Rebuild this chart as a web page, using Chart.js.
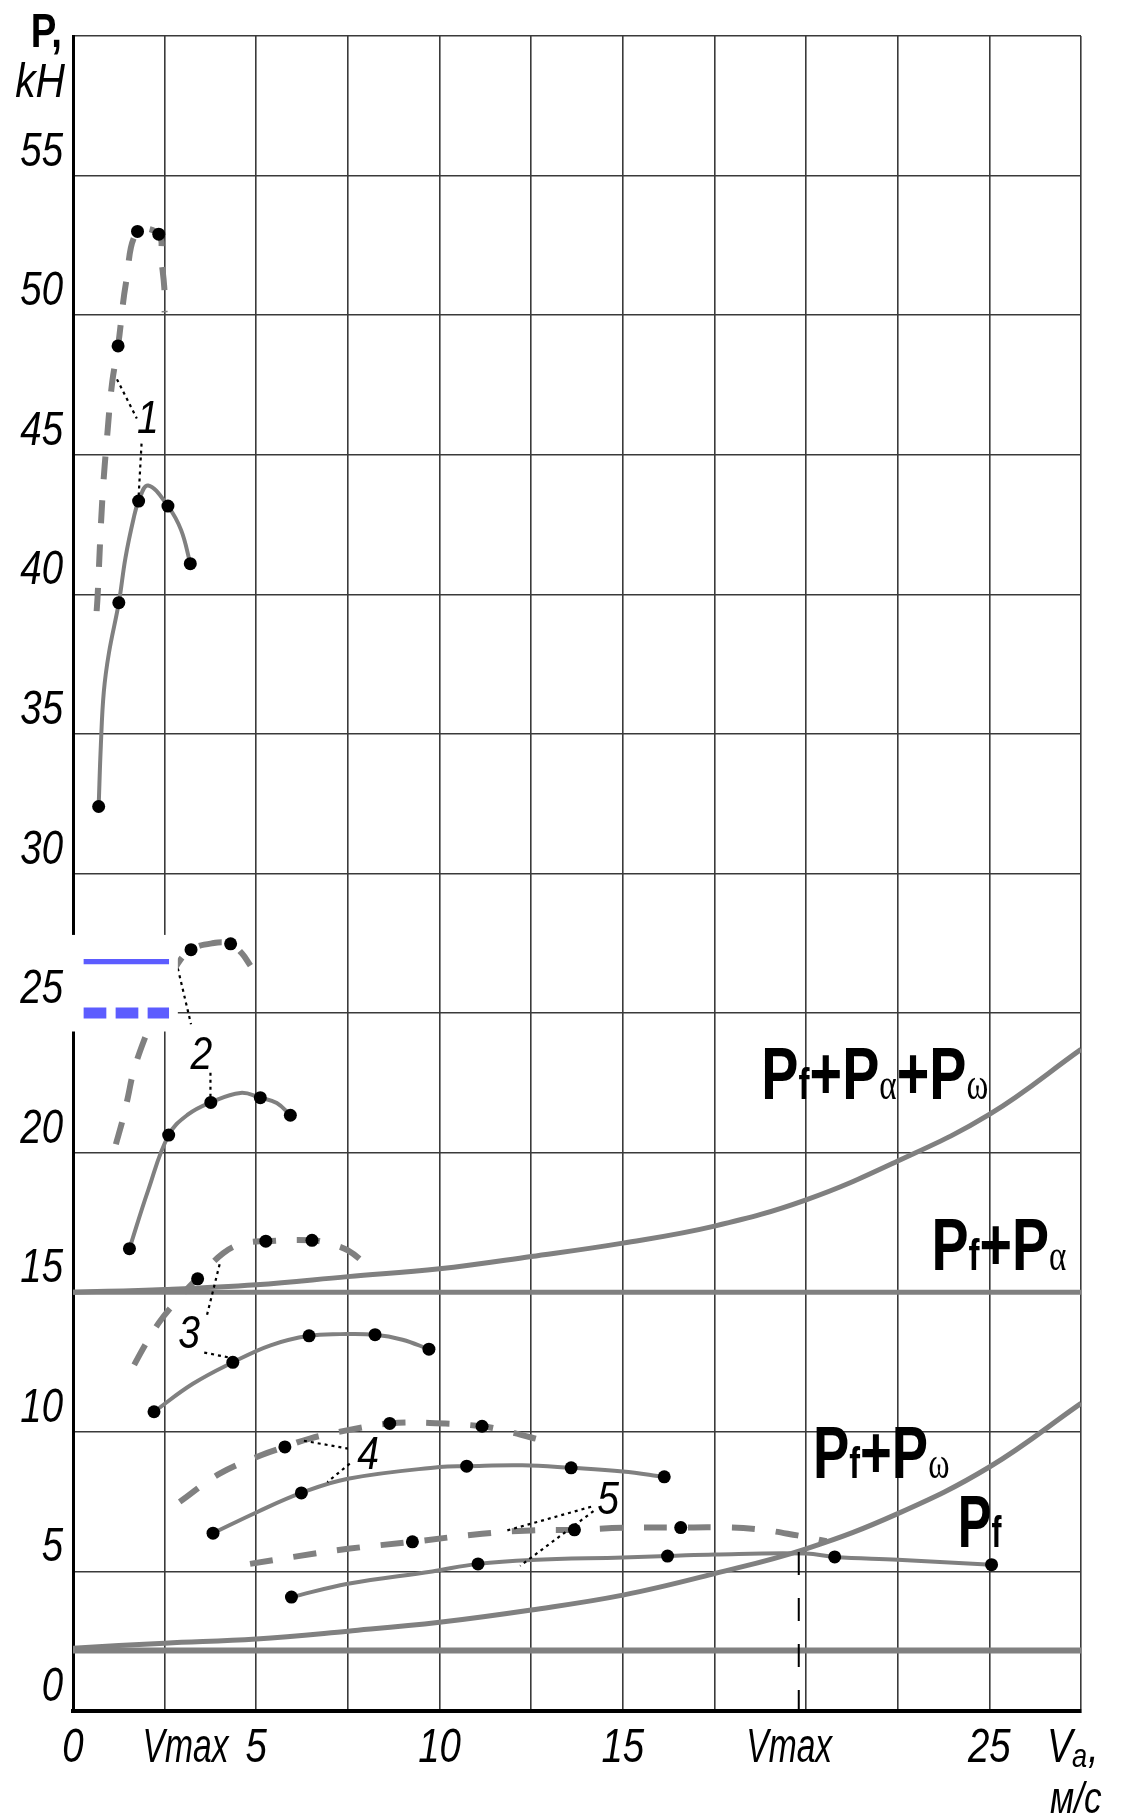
<!DOCTYPE html>
<html><head><meta charset="utf-8">
<script src="https://cdn.jsdelivr.net/npm/chart.js@4.4.1/dist/chart.umd.min.js"></script>
<style>html,body{margin:0;padding:0;background:#fff;}canvas{display:block;}</style>
</head><body>
<canvas id="c" width="1127" height="1818" style="width:1127px;height:1818px"></canvas>
<script>
// ---------- DATA ----------
const pf      = [[0,2.17],[27.5,2.17]];
const pfPa    = [[0,15.0],[27.5,15.0]];
const pfPw    = [[0,2.25],[2.5,2.43],[5,2.58],[7.5,2.86],[10,3.18],[12.5,3.62],[15,4.15],[17.5,4.92],[20,5.81],[22.5,7.07],[25,8.74],[27.5,11.02]];
const pfPaPw  = [[0,15.0],[2.5,15.1],[5,15.27],[7.5,15.56],[10,15.84],[12.5,16.28],[15,16.76],[17.5,17.37],[20,18.31],[22.5,19.7],[25,21.37],[27.5,23.7]];

const gear1Solid      = [[0.70,32.4],[0.76,34.6],[0.84,36.5],[0.98,37.9],[1.25,39.7],[1.43,41.3],[1.65,42.7],[1.79,43.34],[2.05,43.9],[2.59,43.16],[2.95,42.3],[3.2,41.1]];
const gear1SolidDots  = [[0.70,32.4],[1.25,39.7],[1.79,43.34],[2.59,43.16],[3.2,41.1]];
const gear1Dashed     = [[0.645,39.4],[0.67,39.9],[0.80,43.4],[0.94,45.8],[1.07,47.6],[1.23,48.9],[1.45,51.2],[1.76,53.0],[2.34,52.9],[2.41,52.0],[2.49,51.0],[2.5,50.1]];
const gear1DashedDots = [[1.23,48.9],[1.76,53.0],[2.34,52.9]];

const gear2Solid      = [[1.54,16.56],[2.05,18.65],[2.61,20.63],[3.13,21.36],[3.76,21.8],[4.57,22.14],[5.11,21.97],[5.56,21.78],[5.93,21.34]];
const gear2SolidDots  = [[1.54,16.56],[2.61,20.63],[3.76,21.8],[5.11,21.97],[5.93,21.34]];
const gear2Dashed     = [[1.17,20.3],[1.38,21.3],[1.5,22.0],[1.65,22.9],[1.96,24.1],[2.5,25.8],[2.85,26.75],[3.22,27.27],[3.8,27.5],[4.3,27.48],[4.6,27.15],[4.84,26.7]];
const gear2DashedDots = [[3.22,27.27],[4.3,27.48]];

const gear3Solid      = [[2.21,10.72],[3.27,11.72],[4.36,12.49],[5.39,13.1],[6.44,13.44],[7.29,13.5],[8.24,13.48],[8.99,13.3],[9.71,12.96]];
const gear3SolidDots  = [[2.21,10.72],[4.36,12.49],[6.44,13.44],[8.24,13.48],[9.71,12.96]];
const gear3Dashed     = [[1.67,12.4],[1.98,13.14],[2.35,13.92],[2.7,14.5],[3.17,15.2],[3.40,15.5],[4.1,16.4],[4.62,16.74],[5.26,16.83],[6.52,16.86],[6.98,16.74],[7.5,16.5],[8.03,15.96]];
const gear3DashedDots = [[3.40,15.48],[5.26,16.83],[6.52,16.86]];

const gear4Solid      = [[3.82,6.37],[5.03,7.13],[6.23,7.81],[7.5,8.32],[10,8.74],[10.74,8.77],[12.26,8.8],[13.59,8.71],[15,8.58],[16.13,8.39]];
const gear4SolidDots  = [[3.82,6.37],[6.23,7.81],[10.74,8.77],[13.59,8.71],[16.13,8.39]];
const gear4Dashed     = [[2.91,7.49],[4.0,8.5],[5.13,9.16],[5.78,9.46],[6.46,9.76],[7.5,10.06],[8.64,10.3],[9.73,10.32],[11.16,10.2],[11.71,10.06],[12.96,9.64]];
const gear4DashedDots = [[5.78,9.46],[8.64,10.3],[11.16,10.2]];

const gear5Solid      = [[5.96,4.08],[7.5,4.56],[9.8,5.0],[11.05,5.27],[12.5,5.41],[15,5.5],[16.22,5.55],[17.5,5.61],[20,5.64],[20.78,5.52],[22.5,5.42],[25.06,5.24]];
const gear5SolidDots  = [[5.96,4.08],[11.05,5.27],[16.22,5.55],[20.78,5.52],[25.06,5.24]];
const gear5Dashed     = [[4.83,5.27],[6.06,5.53],[7.5,5.81],[9.26,6.06],[11.16,6.35],[12.5,6.47],[13.68,6.49],[15,6.56],[16.58,6.57],[17.5,6.58],[18.6,6.52],[19.76,6.29],[20.56,6.08]];
const gear5DashedDots = [[9.26,6.06],[13.68,6.49],[16.58,6.57]];

const leaders = [
  [[1.2,47.7],[1.74,46.3]], [[1.87,45.4],[1.79,43.5]],
  [[2.86,26.6],[3.22,24.6]], [[3.75,22.86],[3.75,21.9]],
  [[4.0,16.0],[3.64,14.1]], [[3.58,12.84],[4.26,12.66]],
  [[6.3,9.68],[7.5,9.4]],   [[7.55,8.86],[6.94,8.2]],
  [[11.85,6.47],[14.2,7.34]], [[14.2,7.16],[12.2,5.2]]
];
const vmaxLine = [[19.8,5.7],[19.8,0]];

const gearLabelText = ['1','2','3','4','5'];
const gearLabelAt   = [[2.04,46.4],[3.5,23.6],[3.17,13.62],[8.05,9.28],[14.6,7.66]];

// formula labels: subscripts of each P term, anchor [xStart, baseline, xEnd]
const formulaSubs = [['f','α','ω'],['f','α'],['f','ω'],['f']];
const formulaAt   = [[18.78,21.94,24.97],[23.42,15.81,27.1],[20.19,8.33,23.91],[24.14,5.88,25.33]];

const xGridStep = 2.5, xMax = 27.5, yMax = 60, yStep = 5;
const xTickLabels = [[0,'0'],[3.07,'Vmax'],[5,'5'],[10,'10'],[15,'15'],[19.54,'Vmax'],[25,'25']];

// ---------- STYLE ----------
const GRAY = '#808080', GRID = '#3a3a3a';
const SANS = '"Liberation Sans Narrow","Arial Narrow","Liberation Sans",Arial,sans-serif';
const SERIF = '"Liberation Serif","DejaVu Serif",serif';

const datasets = [];
const P = a => a.map(([x,y]) => ({x,y}));
function line(data, o){ datasets.push(Object.assign({type:'line', data:P(data), borderColor:GRAY, borderWidth:4,
  pointRadius:0, pointHoverRadius:0, fill:false, tension:0.4, order:3}, o)); }
function dots(data){ datasets.push({type:'line', data:P(data), showLine:false, pointRadius:6.5, pointHoverRadius:6.5,
  pointBackgroundColor:'#000', pointBorderColor:'#000', pointBorderWidth:0, order:0}); }

line(pf,   {borderWidth:6, tension:0, order:5});
line(pfPa, {borderWidth:5, tension:0, order:5});
line(pfPw, {borderWidth:5, order:5});
line(pfPaPw,{borderWidth:5, order:5});
[[gear1Solid,gear1SolidDots,gear1Dashed,gear1DashedDots],
 [gear2Solid,gear2SolidDots,gear2Dashed,gear2DashedDots],
 [gear3Solid,gear3SolidDots,gear3Dashed,gear3DashedDots],
 [gear4Solid,gear4SolidDots,gear4Dashed,gear4DashedDots],
 [gear5Solid,gear5SolidDots,gear5Dashed,gear5DashedDots]].forEach(([s,sd,d,dd]) => {
  line(s, {borderWidth:4});
  line(d, {borderWidth:6, borderDash:[23,21]});
  dots(sd); dots(dd);
});
leaders.forEach(seg => line(seg, {borderColor:'#000', borderWidth:2.2, borderDash:[3,4], tension:0, order:1}));
line(vmaxLine, {borderColor:'#000', borderWidth:2, borderDash:[23,23], tension:0, order:1});

const extraTicks = xTickLabels.map(t=>t[0]).filter(v => Math.abs(v/xGridStep - Math.round(v/xGridStep)) > 1e-6);
const labelFor = v => { const f = xTickLabels.find(t => Math.abs(t[0]-v) < 1e-6); return f ? f[1] : ''; };

function cText(ctx, t, x, y, font, align, sx){
  ctx.save(); ctx.translate(x, y); ctx.scale(sx, 1);
  ctx.font = font; ctx.textAlign = align; ctx.textBaseline = 'alphabetic'; ctx.fillStyle = '#000';
  ctx.fillText(t, 0, 0); ctx.restore();
}

function drawFormula(ctx, subs, x0, base, width){
  const parts = [];
  subs.forEach((s,i) => {
    if (i) parts.push({t:'+', f:'bold 74px '+SANS});
    parts.push({t:'P', f:'bold 74px '+SANS});
    parts.push(s === 'f' ? {t:'f', f:'bold 44px '+SANS} : {t:s, f:'44px '+SERIF});
  });
  let total = 0;
  parts.forEach(p => { ctx.font = p.f; p.w = ctx.measureText(p.t).width; total += p.w; });
  const sc = width / total;
  ctx.save(); ctx.translate(x0, base); ctx.scale(sc, 1);
  ctx.textAlign = 'left'; ctx.textBaseline = 'alphabetic'; ctx.fillStyle = '#000';
  let cx = 0;
  parts.forEach(p => { ctx.font = p.f; ctx.fillText(p.t, cx, 0); cx += p.w; });
  ctx.restore();
}

const annot = {
  id:'annot',
  afterDraw(chart){
    const {ctx, chartArea:ca, scales:{x, y}} = chart;
    const px = v => x.getPixelForValue(v), py = v => y.getPixelForValue(v);
    const TF = 'italic 48px ' + SANS;
    ctx.save();
    // legend-like box
    ctx.fillStyle = '#fff';
    ctx.fillRect(px(-0.18), py(27.8), px(2.86)-px(-0.18), py(24.34)-py(27.8));
    ctx.strokeStyle = '#5c5cff';
    ctx.lineWidth = 5.3; ctx.setLineDash([]);
    ctx.beginPath(); ctx.moveTo(px(0.29), py(26.84)); ctx.lineTo(px(2.62), py(26.84)); ctx.stroke();
    ctx.lineWidth = 11; ctx.setLineDash([22.7, 9.3]);
    ctx.beginPath(); ctx.moveTo(px(0.29), py(25.0)); ctx.lineTo(px(2.62), py(25.0)); ctx.stroke();
    ctx.setLineDash([]);
    // axis tick labels (from the axes' own ticks)
    x.ticks.forEach(tk => {
      const t = labelFor(tk.value); if (!t) return;
      cText(ctx, t, px(tk.value), ca.bottom + 51, TF, 'center', t === 'Vmax' ? 0.7 : 0.8);
    });
    y.ticks.forEach(tk => {
      if (tk.value === yMax) return;
      cText(ctx, String(tk.value), ca.left - 10, py(tk.value) - 10, TF, 'right', 0.8);
    });
    // gear numbers
    gearLabelText.forEach((t,i) => cText(ctx, t, px(gearLabelAt[i][0]), py(gearLabelAt[i][1]) + 17, 'italic 46px ' + SANS, 'center', 0.85));
    // formulas
    formulaSubs.forEach((s,i) => {
      const [a, b, e] = formulaAt[i];
      drawFormula(ctx, s, px(a), py(b), px(e)-px(a));
    });
    // axis titles
    cText(ctx, 'P,', ca.left - 11, 47, 'bold 48px ' + SANS, 'right', 0.8);
    cText(ctx, 'kH', ca.left - 8, 97, TF, 'right', 0.85);
    const vx = ca.right - 34, vb = ca.bottom + 51;
    cText(ctx, 'V', vx, vb, TF, 'left', 0.8);
    cText(ctx, 'a', vx + 25, vb + 5, 'italic 34px ' + SANS, 'left', 0.8);
    cText(ctx, ',', vx + 41, vb, TF, 'left', 0.8);
    cText(ctx, 'м/с', ca.right - 31, ca.bottom + 102, 'italic 44px ' + SANS, 'left', 0.8);
    ctx.restore();
  }
};

new Chart(document.getElementById('c'), {
  type:'line',
  data:{datasets},
  plugins:[annot],
  options:{
    responsive:false, animation:false, devicePixelRatio:1,
    layout:{padding:{top:36, right:46, left:0, bottom:0}},
    plugins:{legend:{display:false}, tooltip:{enabled:false}},
    scales:{
      x:{type:'linear', min:0, max:xMax,
        afterBuildTicks(s){
          const v = [];
          for (let t = 0; t <= xMax + 1e-9; t += xGridStep) v.push(+t.toFixed(4));
          s.ticks = v.concat(extraTicks).sort((a,b)=>a-b).map(value => ({value}));
        },
        afterFit(s){ s.height = 107; },
        ticks:{display:false, autoSkip:false, maxRotation:0, minRotation:0},
        grid:{drawTicks:false, lineWidth:1.6,
          color:c => (c.tick && extraTicks.some(e => Math.abs(e-c.tick.value) < 1e-6)) ? 'rgba(0,0,0,0)' : GRID},
        border:{color:'#000', width:4}
      },
      y:{type:'linear', min:0, max:yMax,
        afterFit(s){ s.width = 73; },
        ticks:{display:false, stepSize:yStep},
        grid:{drawTicks:false, lineWidth:1.6, color:GRID},
        border:{color:'#000', width:3}
      }
    }
  }
});
</script>
</body></html>
